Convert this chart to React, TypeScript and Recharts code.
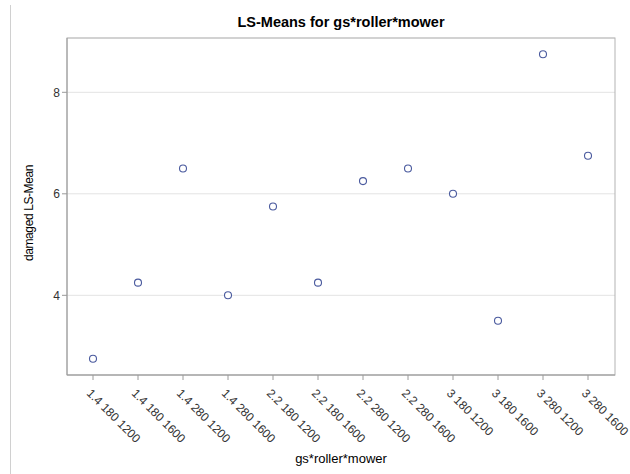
import React from 'react';
import { LineChart, Line, XAxis, YAxis, CartesianGrid } from 'recharts';

const categories = [
  '1.4 180 1200', '1.4 180 1600', '1.4 280 1200', '1.4 280 1600',
  '2.2 180 1200', '2.2 180 1600', '2.2 280 1200', '2.2 280 1600',
  '3 180 1200', '3 180 1600', '3 280 1200', '3 280 1600',
];
const lsMeans = [2.75, 4.25, 6.5, 4.0, 5.75, 4.25, 6.25, 6.5, 6.0, 3.5, 8.75, 6.75];
const yTicks = [4, 6, 8];

const data = categories.map((c, i) => ({ group: c, mean: lsMeans[i] }));

const font = 'Arial, "Liberation Sans", sans-serif';

const RotatedTick = (props: any) => {
  const { x, y, payload } = props;
  return (
    <text
      x={x - 7}
      y={y + 12}
      transform={`rotate(45, ${x - 7}, ${y + 12})`}
      textAnchor="start"
      fontSize={12}
      fontFamily={font}
      fill="#333"
    >
      {payload.value}
    </text>
  );
};

const OpenCircle = (props: any) => {
  const { cx, cy } = props;
  if (cx == null || cy == null) return null;
  return <circle cx={cx} cy={cy} r={3.5} fill="#fff" stroke="#4a5a9e" strokeWidth={1.1} />;
};

export default function App() {
  return (
    <div style={{ position: 'fixed', left: 0, top: 0, width: 630, height: 474, background: '#fff' }}>
      <div style={{ position: 'absolute', left: 10, top: 5, width: 1, height: 469, background: '#d0d0d0' }} />
      <div
        style={{
          position: 'absolute', left: 67, width: 548, top: 14, textAlign: 'center',
          fontFamily: font, fontWeight: 'bold', fontSize: 14.5, color: '#000',
        }}
      >
        LS-Means for gs*roller*mower
      </div>
      <div
        style={{
          position: 'absolute', left: 67, width: 548, top: 451, textAlign: 'center',
          fontFamily: font, fontSize: 13, color: '#000',
        }}
      >
        gs*roller*mower
      </div>
      <div style={{ position: 'absolute', left: 29, top: 214, width: 0, height: 0 }}>
        <div
          style={{
            position: 'absolute', left: -100, top: -8, width: 200, textAlign: 'center',
            transform: 'rotate(-90deg)', fontFamily: font, fontSize: 12, color: '#000',
            letterSpacing: -0.4,
          }}
        >
          damaged LS-Mean
        </div>
      </div>
      <LineChart
        width={630}
        height={474}
        data={data}
        margin={{ top: 38, right: 15, bottom: 0, left: 17 }}
        style={{ position: 'absolute', left: 0, top: 0 }}
      >
        <CartesianGrid horizontal vertical={false} stroke="#e3e3e3" />
        <XAxis
          dataKey="group"
          type="category"
          interval={0}
          padding={{ left: 26, right: 27 }}
          height={99}
          stroke="#9a9a9a"
          tickSize={5}
          tick={<RotatedTick />}
        />
        <YAxis
          type="number"
          domain={[2.43, 9.07]}
          ticks={yTicks}
          allowDataOverflow
          width={50}
          stroke="#9a9a9a"
          tickSize={5}
          tick={{ fontSize: 12, fontFamily: font, fill: '#333' }}
        />
        <Line
          dataKey="mean"
          stroke="none"
          isAnimationActive={false}
          dot={<OpenCircle />}
          activeDot={false}
        />
        <rect x={67} y={38} width={548} height={337} fill="none" stroke="#b3b3b3" />
      </LineChart>
    </div>
  );
}
